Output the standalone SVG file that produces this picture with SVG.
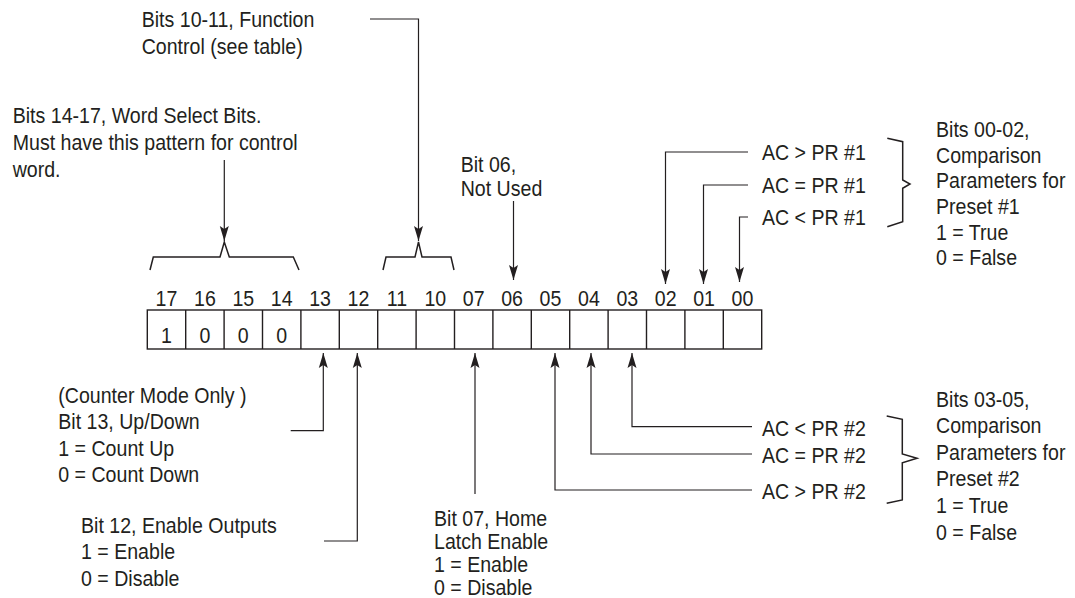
<svg xmlns="http://www.w3.org/2000/svg" width="1075" height="598" viewBox="0 0 1075 598">
<style>
text{font-family:"Liberation Sans",Arial,sans-serif;font-size:22px;fill:#231f20}
.c{text-anchor:middle}
.ln{fill:none;stroke:#231f20;stroke-width:1.2}
.br{fill:none;stroke:#231f20;stroke-width:1.5;stroke-linejoin:miter}
.cell{fill:#fff;stroke:#231f20;stroke-width:1.4}
</style>
<defs>
<marker id="ah" markerUnits="userSpaceOnUse" markerWidth="18" markerHeight="12" refX="15" refY="6" orient="auto" overflow="visible">
<path d="M0,1.5 L15,6 L0,10.5 L3,6 z" fill="#231f20"/>
</marker>
</defs>
<rect width="1075" height="598" fill="#fff"/>

<g id="register">
<rect class="cell" x="147.3" y="310" width="614.4" height="39"/>
<path class="ln" d="M185.7,310V349M224.1,310V349M262.5,310V349M300.9,310V349M339.3,310V349M377.7,310V349M416.1,310V349M454.5,310V349M492.9,310V349M531.3,310V349M569.7,310V349M608.1,310V349M646.5,310V349M684.9,310V349M723.3,310V349" style="stroke-width:1.4"/>
<text class="c" transform="translate(166.5,306) scale(0.89,1)">17</text>
<text class="c" transform="translate(204.9,306) scale(0.89,1)">16</text>
<text class="c" transform="translate(243.3,306) scale(0.89,1)">15</text>
<text class="c" transform="translate(281.7,306) scale(0.89,1)">14</text>
<text class="c" transform="translate(320.1,306) scale(0.89,1)">13</text>
<text class="c" transform="translate(358.5,306) scale(0.89,1)">12</text>
<text class="c" transform="translate(396.9,306) scale(0.89,1)">11</text>
<text class="c" transform="translate(435.3,306) scale(0.89,1)">10</text>
<text class="c" transform="translate(473.7,306) scale(0.89,1)">07</text>
<text class="c" transform="translate(512.1,306) scale(0.89,1)">06</text>
<text class="c" transform="translate(550.5,306) scale(0.89,1)">05</text>
<text class="c" transform="translate(588.9,306) scale(0.89,1)">04</text>
<text class="c" transform="translate(627.3,306) scale(0.89,1)">03</text>
<text class="c" transform="translate(665.7,306) scale(0.89,1)">02</text>
<text class="c" transform="translate(704.1,306) scale(0.89,1)">01</text>
<text class="c" transform="translate(742.5,306) scale(0.89,1)">00</text>
<text class="c" transform="translate(166.5,343) scale(0.89,1)">1</text>
<text class="c" transform="translate(204.9,343) scale(0.89,1)">0</text>
<text class="c" transform="translate(243.3,343) scale(0.89,1)">0</text>
<text class="c" transform="translate(281.7,343) scale(0.89,1)">0</text>
</g>

<g id="brace-14-17">
<path class="br" d="M150,270 L153.3,257 L220,257 L224.3,242 L229.3,257 L293.3,257 L299,270"/>
</g>
<g id="brace-10-11">
<path class="br" d="M383,270 L386,257 L415,257 L418.5,242 L422,257 L451,257 L454,270"/>
</g>
<g id="bracket-preset1">
<path class="br" d="M887.3,138.3 L902.7,141.7 V180 L910,184 L902.7,188.3 V221.7 L887.3,226.7"/>
</g>
<g id="bracket-preset2">
<path class="br" d="M886.7,416 L902.3,419.3 V454 L917,458.3 L902.3,462.7 V500 L886.7,503.3"/>
</g>

<g id="label-word-select" transform="translate(12.7,0) scale(0.89,1)">
<text x="0" y="123.3">Bits 14-17, Word Select Bits.</text>
<text x="0" y="150">Must have this pattern for control</text>
<text x="0" y="176.7">word.</text>
</g>
<g id="label-function-control" transform="translate(141.7,0) scale(0.89,1)">
<text x="0" y="27">Bits 10-11, Function</text>
<text x="0" y="54">Control (see table)</text>
</g>
<g id="label-bit06" transform="translate(460.7,0) scale(0.89,1)">
<text x="0" y="172.5">Bit 06,</text>
<text x="0" y="196">Not Used</text>
</g>
<g id="label-ac-pr1" transform="translate(762,0) scale(0.89,1)">
<text x="0" y="160.5">AC &gt; PR #1</text>
<text x="0" y="193.5">AC = PR #1</text>
<text x="0" y="225.5">AC &lt; PR #1</text>
</g>
<g id="label-preset1" transform="translate(936,0) scale(0.89,1)">
<text x="0" y="137">Bits 00-02,</text>
<text x="0" y="162.7">Comparison</text>
<text x="0" y="188.4">Parameters for</text>
<text x="0" y="214">Preset #1</text>
<text x="0" y="239.8">1 = True</text>
<text x="0" y="265.5">0 = False</text>
</g>
<g id="label-ac-pr2" transform="translate(762,0) scale(0.89,1)">
<text x="0" y="436">AC &lt; PR #2</text>
<text x="0" y="463">AC = PR #2</text>
<text x="0" y="499">AC &gt; PR #2</text>
</g>
<g id="label-preset2" transform="translate(936,0) scale(0.89,1)">
<text x="0" y="407">Bits 03-05,</text>
<text x="0" y="433.5">Comparison</text>
<text x="0" y="460">Parameters for</text>
<text x="0" y="486.5">Preset #2</text>
<text x="0" y="513">1 = True</text>
<text x="0" y="540">0 = False</text>
</g>
<g id="label-bit13" transform="translate(58.3,0) scale(0.89,1)">
<text x="0" y="403">(Counter Mode Only )</text>
<text x="0" y="429.5">Bit 13, Up/Down</text>
<text x="0" y="456">1 = Count Up</text>
<text x="0" y="482.5">0 = Count Down</text>
</g>
<g id="label-bit12" transform="translate(81,0) scale(0.89,1)">
<text x="0" y="533">Bit 12, Enable Outputs</text>
<text x="0" y="559.5">1 = Enable</text>
<text x="0" y="586">0 = Disable</text>
</g>
<g id="label-bit07" transform="translate(434,0) scale(0.89,1)">
<text x="0" y="526">Bit 07, Home</text>
<text x="0" y="549">Latch Enable</text>
<text x="0" y="572">1 = Enable</text>
<text x="0" y="595">0 = Disable</text>
</g>

<g id="connectors">
<path class="ln" marker-end="url(#ah)" d="M224.3,160 V241"/>
<path class="ln" marker-end="url(#ah)" d="M370,19 H418.5 V241"/>
<path class="ln" marker-end="url(#ah)" d="M513.5,201 V280"/>
<path class="ln" marker-end="url(#ah)" d="M748,152 H665.5 V284"/>
<path class="ln" marker-end="url(#ah)" d="M748,185 H703.5 V284"/>
<path class="ln" marker-end="url(#ah)" d="M748,217 H739.5 V282"/>
<path class="ln" marker-end="url(#ah)" d="M290.7,430.7 H323.3 V353"/>
<path class="ln" marker-end="url(#ah)" d="M324,541 H357.3 V353"/>
<path class="ln" marker-end="url(#ah)" d="M475,494 V353"/>
<path class="ln" marker-end="url(#ah)" d="M752,490 H555 V353"/>
<path class="ln" marker-end="url(#ah)" d="M752,454 H591 V353"/>
<path class="ln" marker-end="url(#ah)" d="M752,426.7 H632 V353"/>
</g>
</svg>
